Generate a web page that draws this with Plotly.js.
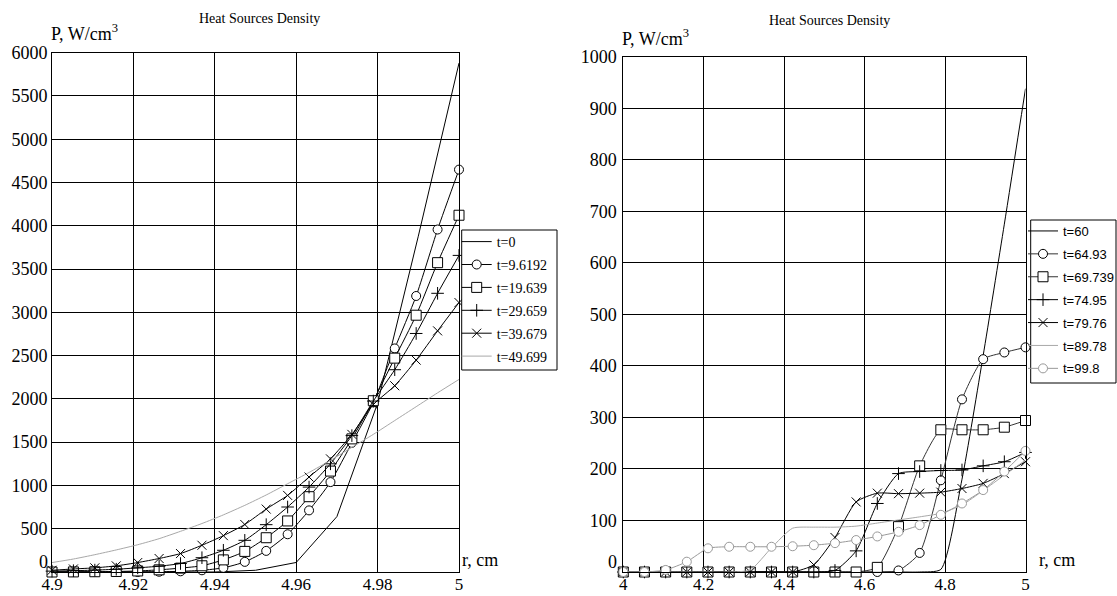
<!DOCTYPE html>
<html><head><meta charset="utf-8">
<script src="https://cdn.plot.ly/plotly-3.0.1.min.js"></script>
<style>body{margin:0;background:#fff}#chart{width:1117px;height:596px}</style>
</head><body><div id="chart"></div>
<script>
// ---------- Left chart data ----------
const rLeft = [4.9, 4.905263, 4.910526, 4.915789, 4.921053, 4.926316, 4.931579, 4.936842, 4.942105, 4.947368,
               4.952632, 4.957895, 4.963158, 4.968421, 4.973684, 4.978947, 4.984211, 4.989474, 4.994737, 5];
const rT0 = [4.9, 4.91, 4.92, 4.93, 4.94, 4.95, 4.96, 4.97, 4.98, 4.99, 5];
const pT0 = [0, 0, 0, 0, 0, 20, 110, 640, 1950, 3880, 5880];
const pT9_6192  = [0, 0, 0, 0, 1, 3, 8, 20, 48, 117, 244, 436, 712, 1039, 1492, 1960, 2583, 3189, 3957, 4649];
const pT19_639  = [0, 1, 3, 6, 12, 25, 45, 72, 140, 238, 396, 590, 870, 1166, 1538, 1979, 2471, 2967, 3574, 4122];
const pT29_659  = [10, 15, 22, 32, 48, 67, 98, 165, 251, 366, 547, 751, 981, 1250, 1576, 1975, 2337, 2756, 3220, 3658];
const pT39_679  = [20, 35, 48, 71, 109, 156, 213, 309, 420, 549, 727, 885, 1097, 1307, 1590, 1935, 2152, 2448, 2786, 3113];
const pT49_699  = [109, 150, 200, 255, 315, 385, 470, 560, 660, 770, 890, 1020, 1150, 1290, 1440, 1590, 1750, 1910, 2070, 2225];
const leftNames = ["t=0", "t=9.6192", "t=19.639", "t=29.659", "t=39.679", "t=49.699"];
const leftXTicks = [4.9, 4.92, 4.94, 4.96, 4.98, 5];
const leftXTickText = ["4.9", "4.92", "4.94", "4.96", "4.98", "5"];
const leftYTicks = [500, 1000, 1500, 2000, 2500, 3000, 3500, 4000, 4500, 5000, 5500, 6000];

// ---------- Right chart data ----------
const rRight = [4, 4.052632, 4.105263, 4.157895, 4.210526, 4.263158, 4.315789, 4.368421, 4.421053, 4.473684,
                4.526316, 4.578947, 4.631579, 4.684211, 4.736842, 4.789474, 4.842105, 4.894737, 4.947368, 5];
const pT60     = [0, 0, 0, 0, 0, 0, 0, 0, 0, 0, 0, 0, 0, 0, 0, 5, 180, 420, 675, 938];
const pT64_93  = [0, 0, 0, 0, 0, 0, 0, 0, 0, 0, 0, 0, 0, 3, 37, 178, 335, 413, 426, 436];
const pT69_739 = [0, 0, 0, 0, 0, 0, 0, 0, 0, 0, 0, 0, 9, 88, 206, 276, 276, 276, 281, 294];
const pT74_95  = [0, 0, 0, 0, 0, 0, 0, 0, 0, 0, 3, 41, 133, 191, 195, 197, 198, 206, 214, 232];
const pT79_76  = [0, 0, 0, 0, 0, 0, 0, 0, 0, 14, 67, 136, 153, 152, 153, 155, 162, 172, 191, 214];
const pT89_78  = [0, 0, 0, 0, 0, 0, 4, 47, 85, 87, 87, 89, 95, 101, 107, 114, 130, 158, 188, 217];
const pT99_8   = [0, 0, 4, 20, 46, 49, 49, 49, 50, 52, 56, 62, 69, 78, 91, 111, 133, 159, 195, 235];
const rightNames = ["t=60", "t=64.93", "t=69.739", "t=74.95", "t=79.76", "t=89.78", "t=99.8"];
const rightXTicks = [4, 4.2, 4.4, 4.6, 4.8, 5];
const rightXTickText = ["4", "4.2", "4.4", "4.6", "4.8", "5"];
const rightYTicks = [100, 200, 300, 400, 500, 600, 700, 800, 900, 1000];

const SERIF = 'Liberation Serif';
const SANS = 'Liberation Sans';

function tr(x, y, name, opts) {
  const t = {
    x: x, y: y, name: name, type: 'scatter',
    mode: opts.symbol ? 'lines+markers' : 'lines',
    line: {color: opts.color, width: 1, shape: opts.shape || 'spline', smoothing: 0.6},
    xaxis: opts.xa, yaxis: opts.ya, legend: opts.legend, legendgroup: opts.legend + '_' + name,
    cliponaxis: false
  };
  if (opts.symbol) {
    t.marker = {symbol: opts.symbol, size: opts.size || 9, color: opts.fill || '#fff',
                line: {color: opts.mcolor || opts.color, width: 1}};
  }
  return t;
}

const L = {xa: 'x', ya: 'y', legend: 'legend'};
const R = {xa: 'x2', ya: 'y2', legend: 'legend2'};

const data = [
  tr(rT0, pT0, leftNames[0], Object.assign({color: '#000', shape: 'linear'}, L)),
  tr(rLeft, pT9_6192, leftNames[1], Object.assign({color: '#000', symbol: 'circle', size: 9, fill: '#fff', mcolor: '#000'}, L)),
  tr(rLeft, pT19_639, leftNames[2], Object.assign({color: '#000', symbol: 'square', size: 10, fill: '#fff', mcolor: '#000'}, L)),
  tr(rLeft, pT29_659, leftNames[3], Object.assign({color: '#000', symbol: 'cross-thin-open', size: 9, fill: '#000'}, L)),
  tr(rLeft, pT39_679, leftNames[4], Object.assign({color: '#000', symbol: 'x-thin-open', size: 9, fill: '#000'}, L)),
  tr(rLeft, pT49_699, leftNames[5], Object.assign({color: '#a8a8a8'}, L)),

  tr(rRight, pT60, rightNames[0], Object.assign({color: '#000'}, R)),
  tr(rRight, pT64_93, rightNames[1], Object.assign({color: '#333', symbol: 'circle', size: 9, fill: '#fff', mcolor: '#000'}, R)),
  tr(rRight, pT69_739, rightNames[2], Object.assign({color: '#333', symbol: 'square', size: 10, fill: '#fff', mcolor: '#000'}, R)),
  tr(rRight, pT74_95, rightNames[3], Object.assign({color: '#000', symbol: 'cross-thin-open', size: 9, fill: '#000'}, R)),
  tr(rRight, pT79_76, rightNames[4], Object.assign({color: '#000', symbol: 'x-thin-open', size: 9, fill: '#000'}, R)),
  tr(rRight, pT89_78, rightNames[5], Object.assign({color: '#a8a8a8'}, R)),
  tr(rRight, pT99_8, rightNames[6], Object.assign({color: '#999', symbol: 'circle', size: 9, fill: '#fff', mcolor: '#999'}, R))
];

const W = 1117, H = 596;
const px = v => v / W, py = v => (H - v) / H;

const axisCommon = {
  showline: true, mirror: true, linecolor: '#000', linewidth: 1,
  showgrid: true, gridcolor: '#000', gridwidth: 1, zeroline: false,
  ticks: '', tickfont: {family: SERIF, size: 18, color: '#000'}, fixedrange: true
};
const xTickFont = {family: SERIF, size: 17, color: '#000'};

function ann(text, x, y, size, xanchor, family) {
  return {text: text, x: px(x), y: py(y), xref: 'paper', yref: 'paper', xanchor: xanchor || 'center', yanchor: 'middle',
          showarrow: false, font: {family: family || SERIF, size: size, color: '#000'}};
}
function box(x0, y0, x1, y1) {
  return {type: 'rect', xref: 'paper', yref: 'paper', x0: px(x0), x1: px(x1), y0: py(y1), y1: py(y0),
          line: {color: '#000', width: 1}, fillcolor: '#fff', layer: 'above'};
}

const layout = {
  width: W, height: H,
  margin: {l: 0, r: 0, t: 0, b: 0, autoexpand: false},
  paper_bgcolor: '#fff', plot_bgcolor: '#fff',
  showlegend: true,
  font: {family: SERIF, color: '#000'},
  xaxis: Object.assign({}, axisCommon, {domain: [px(52), px(459)], range: [4.9, 5], tickvals: leftXTicks, ticktext: leftXTickText, anchor: 'y', tickfont: xTickFont, ticklabelstandoff: -3}),
  yaxis: Object.assign({}, axisCommon, {domain: [py(572), py(52.7)], range: [0, 6000], tickvals: leftYTicks, anchor: 'x', ticklabelstandoff: 0}),
  xaxis2: Object.assign({}, axisCommon, {domain: [px(623.3), px(1025.5)], range: [4, 5], tickvals: rightXTicks, ticktext: rightXTickText, anchor: 'y2', tickfont: xTickFont, ticklabelstandoff: -3}),
  yaxis2: Object.assign({}, axisCommon, {domain: [py(572), py(56.7)], range: [0, 1000], tickvals: rightYTicks, anchor: 'x2', ticklabelstandoff: 2}),
  legend: {x: px(456.7), y: py(226), xanchor: 'left', yanchor: 'top', bgcolor: 'rgba(0,0,0,0)', borderwidth: 0,
           font: {family: SERIF, size: 14, color: '#000'}, itemwidth: 30, tracegroupgap: 1.7},
  legend2: {x: px(1023), y: py(216), xanchor: 'left', yanchor: 'top', bgcolor: 'rgba(0,0,0,0)', borderwidth: 0,
           font: {family: SANS, size: 13, color: '#000'}, itemwidth: 30, tracegroupgap: 3},
  shapes: [box(461.7, 230, 557, 370), box(1030.7, 220, 1116, 383)],
  annotations: [
    ann('Heat Sources Density', 259, 18, 14),
    ann('Heat Sources Density', 829, 21, 14),
    ann('P, W/cm<sup>3</sup>', 49, 33, 18, 'left'),
    ann('P, W/cm<sup>3</sup>', 620, 37, 18, 'left'),
    ann('r, cm', 460, 560, 18, 'left'),
    ann('r, cm', 1037, 560, 18, 'left'),
    ann('0', 50, 562, 18, 'right'),
    ann('0', 619, 562, 18, 'right')
  ]
};

Plotly.newPlot('chart', data, layout, {displayModeBar: false, staticPlot: true});
</script>
</body></html>
